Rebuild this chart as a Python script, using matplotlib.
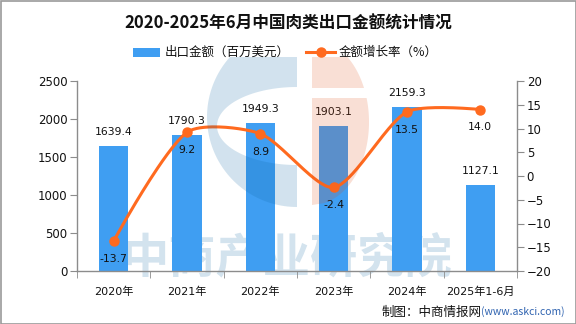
import numpy as np
import matplotlib

matplotlib.use("Agg")
import matplotlib.pyplot as plt
from matplotlib.patches import Rectangle, Polygon
from matplotlib.lines import Line2D

plt.rcParams["font.family"] = ["DejaVu Sans", "Noto Sans CJK SC"]

years = ["2020年", "2021年", "2022年", "2023年", "2024年", "2025年1-6月"]
export_value = [1639.4, 1790.3, 1949.3, 1903.1, 2159.3, 1127.1]
growth_rate = [-13.7, 9.2, 8.9, -2.4, 13.5, 14.0]

BAR_COLOR = "#3f9ef2"
LINE_COLOR = "#ff6a1f"
AXIS_COLOR = "#8c8c8c"
CJK = ["Noto Sans CJK SC", "DejaVu Sans"]

W, H = 576, 324
fig = plt.figure(figsize=(W / 100, H / 100), dpi=100)

# axes box in pixels: x 77..517, y 81..271
ax = fig.add_axes([77 / W, 1 - 271 / H, 440 / W, 190 / H])
ax2 = ax.twinx()

x = np.arange(len(years))

# watermark text sits behind everything
fig.text(287 / W, 1 - 258 / H, "中商产业研究院", family=CJK, fontsize=34,
         fontweight="bold", color="#d3e3ee", ha="center", va="center", zorder=0)
ax.set_zorder(1)
ax.patch.set_visible(False)
ax2.set_zorder(2)
ax2.patch.set_visible(False)

ax.bar(x, export_value, width=0.4, color=BAR_COLOR, zorder=2)
ax.set_xlim(-0.5, len(years) - 0.5)
ax.set_ylim(0, 2500)
ax.set_yticks(np.arange(0, 2501, 500))
ax2.set_ylim(-20, 20)
ax2.set_yticks(np.arange(-20, 21, 5))

for xi, v in zip(x, export_value):
    ax.annotate(f"{v:.1f}", (xi, v), xytext=(0, 14), textcoords="offset pixels",
                ha="center", va="center", fontsize=7.8, color="#111111", zorder=5)


# bezier smoothing through the points; end points keep their own control point
def smooth_curve(xs, ys, sx, sy, smooth=0.25, n=40):
    pts = np.column_stack([np.asarray(xs, float) * sx, np.asarray(ys, float) * sy])
    m = len(pts)
    cps = []
    for i in range(m):
        p = pts[i]
        if i == 0 or i == m - 1:
            cps.append((p.copy(), p.copy()))
            continue
        prev, nxt = pts[i - 1], pts[i + 1]
        v = (nxt - prev) * smooth
        d0 = np.hypot(*(p - prev))
        d1 = np.hypot(*(nxt - p))
        s = d0 + d1
        cps.append((p - v * d0 / s, p + v * d1 / s))
    out = []
    t = np.linspace(0, 1, n)[:, None]
    for i in range(m - 1):
        p0, p3 = pts[i], pts[i + 1]
        c1, c2 = cps[i][1], cps[i + 1][0]
        seg = ((1 - t) ** 3) * p0 + 3 * ((1 - t) ** 2) * t * c1 + 3 * (1 - t) * t ** 2 * c2 + t ** 3 * p3
        out.append(seg if i == 0 else seg[1:])
    out = np.vstack(out)
    return out[:, 0] / sx, out[:, 1] / sy


cx, cy = smooth_curve(x, growth_rate, 440 / 6, 190 / 40)
ax2.plot(cx, cy, color=LINE_COLOR, lw=2.2, solid_capstyle="round", zorder=3)
ax2.plot(x, growth_rate, "o", color=LINE_COLOR, ms=6.5, zorder=4)
for xi, v in zip(x, growth_rate):
    ax2.annotate(f"{v:.1f}", (xi, v), xytext=(0, -18), textcoords="offset pixels",
                 ha="center", va="center", fontsize=7.8, color="#111111", zorder=5)

# axes styling
for a in (ax, ax2):
    a.spines["top"].set_visible(False)
    for sp in a.spines.values():
        sp.set_color(AXIS_COLOR)
        sp.set_linewidth(1.0)
ax.spines["right"].set_visible(False)
ax2.spines["left"].set_visible(False)
ax2.spines["bottom"].set_visible(False)

ax.set_xticks(x)
ax.set_xticklabels(years, fontsize=8, color="#111111")
ax.set_xticks(np.arange(-0.5, len(years), 1.0), minor=True)
ax.tick_params(axis="x", which="major", length=0, pad=11)
ax.tick_params(axis="x", which="minor", length=5, color=AXIS_COLOR, direction="out")
ax.tick_params(axis="y", length=5, color=AXIS_COLOR, labelsize=8.5, labelcolor="#111111", pad=2)
ax2.tick_params(axis="y", length=5, color=AXIS_COLOR, labelsize=8.5, labelcolor="#111111", pad=2)

# logo overlay (semi-transparent, drawn over the bars), in pixel coordinates
ov = fig.add_axes([0, 0, 1, 1], zorder=6)
ov.set_xlim(0, W)
ov.set_ylim(H, 0)
ov.axis("off")
ov.patch.set_visible(False)
clip = Rectangle((0, 57), W, H - 57, transform=ov.transData, facecolor="none")

blue = (0.04, 0.39, 0.63, 0.18)
salmon = (0.87, 0.31, 0.09, 0.18)

th = np.linspace(np.pi / 2, 3 * np.pi / 2, 90)
outer = np.column_stack([297 + 90 * np.cos(th), 117 - 90 * np.sin(th)])
inner = np.column_stack([297 + 80 * np.cos(th[::-1]), 126 - 39 * np.sin(th[::-1])])
ring = Polygon(np.vstack([outer, inner]), closed=True, facecolor=blue, edgecolor="none")
ov.add_patch(ring)
ring.set_clip_path(clip)


def half_ellipse(y_from, y_to, cx0=312, cy0=122, rx=57, ry=83):
    ys = np.linspace(y_from, y_to, 60)
    xs = cx0 + rx * np.sqrt(np.clip(1 - ((ys - cy0) / ry) ** 2, 0, None))
    return np.vstack([[[cx0, y_from]], np.column_stack([xs, ys]), [[cx0, y_to]]])


for y0, y1 in ((39, 88), (98, 205)):
    piece = Polygon(half_ellipse(y0, y1), closed=True, facecolor=salmon, edgecolor="none")
    ov.add_patch(piece)
    piece.set_clip_path(clip)

# title and legend
fig.text(288 / W, 1 - 24 / H, "2020-2025年6月中国肉类出口金额统计情况", family=CJK,
         fontsize=12, fontweight="bold", ha="center", va="center", color="#111111")
fig.patches.append(Rectangle((133 / W, 1 - 57 / H), 27 / W, 9 / H, transform=fig.transFigure,
                             facecolor=BAR_COLOR, edgecolor="none"))
fig.text(165 / W, 1 - 52 / H, "出口金额（百万美元）", family=CJK, fontsize=9,
         ha="left", va="center", color="#111111")
fig.lines.append(Line2D([306 / W, 335 / W], [1 - 52 / H, 1 - 52 / H], transform=fig.transFigure,
                        color=LINE_COLOR, lw=2.2))
fig.lines.append(Line2D([320.5 / W], [1 - 52 / H], transform=fig.transFigure, marker="o",
                        color=LINE_COLOR, ms=6.5))
fig.text(339 / W, 1 - 52 / H, "金额增长率（%）", family=CJK, fontsize=9,
         ha="left", va="center", color="#111111")

# source note
src = fig.text(565 / W, 1 - 312 / H, "(www.askci.com)", family=CJK, fontsize=7.5,
               ha="right", va="center", color="#2f63b0")
fig.canvas.draw()
bb = src.get_window_extent()
fig.text(bb.x0 / W, 1 - 312 / H, "制图：中商情报网", family=CJK, fontsize=9,
         ha="right", va="center", color="#111111")

# outer border
fig.patches.append(Rectangle((0.5 / W, 0.5 / H), (W - 1) / W, (H - 1) / H, transform=fig.transFigure,
                             facecolor="none", edgecolor="#9a9a9a", lw=1.2))

fig.savefig("out.png", dpi=100)
